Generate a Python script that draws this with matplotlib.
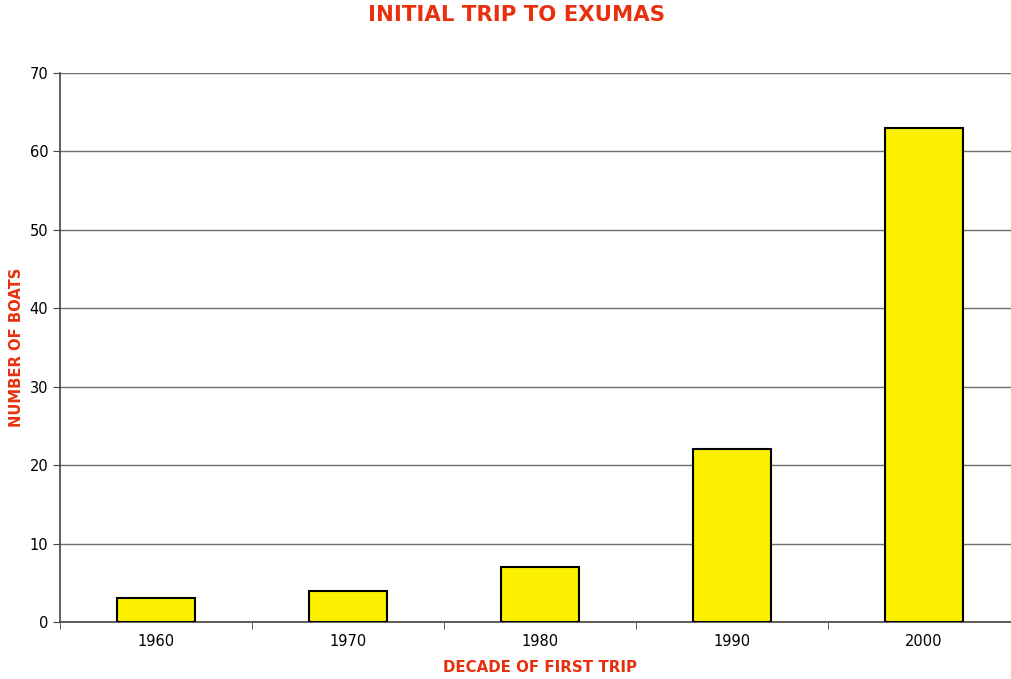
import matplotlib.pyplot as plt
import numpy as np

decades = ['1960', '1970', '1980', '1990', '2000']
boats = [3, 4, 7, 22, 63]

red = '#E8300E'

fig = plt.figure(figsize=(10.12, 6.79), dpi=100)
# plot area runs a little past the right edge of the canvas
ax = fig.add_axes([60 / 1012, 57 / 679, 960 / 1012, 549 / 679])

x = np.arange(len(decades))
ax.bar(x, boats, width=0.406, color='#FAF000', edgecolor='black',
       linewidth=1.5, zorder=3)

ax.set_xlim(-0.5, len(decades) - 0.5)
ax.set_ylim(0, 70)
ax.set_yticks(range(0, 71, 10))
ax.grid(axis='y', color='#6e6e6e', linewidth=1, zorder=0)

# category labels centred, tick marks between categories
ax.set_xticks(x)
ax.set_xticklabels(decades, fontsize=10.5)
ax.tick_params(axis='x', length=0, pad=9)
ax.set_xticks(np.arange(-0.5, len(decades), 1.0), minor=True)
ax.tick_params(axis='x', which='minor', length=5, color='#444444')
ax.tick_params(axis='y', length=5, labelsize=10.5, color='#444444')

for side in ['top', 'right']:
    ax.spines[side].set_visible(False)
for side in ['left', 'bottom']:
    ax.spines[side].set_color('#444444')
    ax.spines[side].set_linewidth(1.2)

fig.text(516 / 1012, 1 - 15 / 679, 'INITIAL TRIP TO EXUMAS', color=red,
         fontsize=15.3, fontweight='bold', ha='center', va='center')
fig.text(540 / 1012, 1 - 667 / 679, 'DECADE OF FIRST TRIP', color=red,
         fontsize=10.8, fontweight='bold', ha='center', va='center')
fig.text(17 / 1012, 1 - 347 / 679, 'NUMBER OF BOATS', color=red,
         fontsize=10.6, fontweight='bold', ha='center', va='center',
         rotation=90)

fig.savefig('out.png', dpi=100)
